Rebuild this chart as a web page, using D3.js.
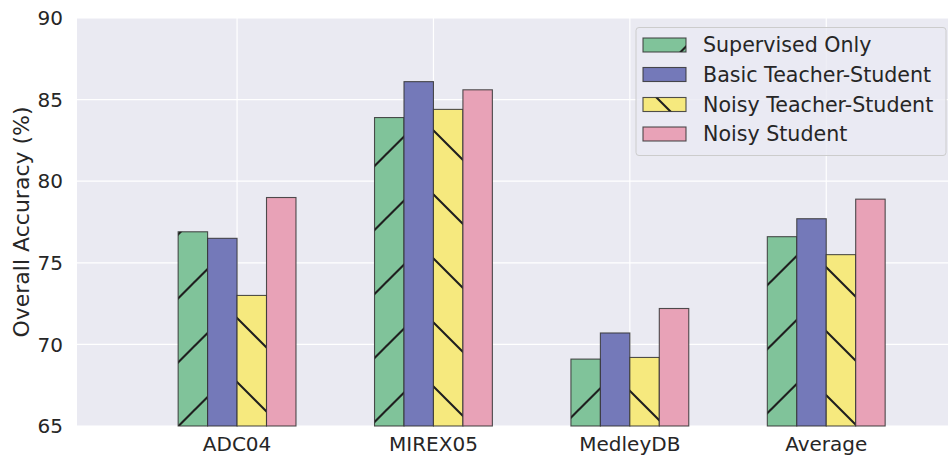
<!DOCTYPE html>
<html><head><meta charset="utf-8">
<script src="https://cdn.jsdelivr.net/npm/d3@7"></script>
<style>body{margin:0;background:#fff}svg{display:block}text{font-family:"DejaVu Sans",sans-serif;fill:#262626}</style>
</head><body><svg id="c" width="948" height="456"></svg>
<script>
const categories = ["ADC04", "MIREX05", "MedleyDB", "Average"];
const seriesNames = ["Supervised Only", "Basic Teacher-Student", "Noisy Teacher-Student", "Noisy Student"];
const supervisedOnly = [76.9, 83.9, 69.1, 76.6];
const basicTS = [76.5, 86.1, 70.7, 77.7];
const noisyTS = [73.0, 84.4, 69.2, 75.5];
const noisyStudent = [79.0, 85.6, 72.2, 78.9];
const yTicks = [65, 70, 75, 80, 85, 90];

const seriesValues = [supervisedOnly, basicTS, noisyTS, noisyStudent];
const colors = ["#80c39a", "#7479b9", "#f6e97e", "#e8a2b7"];
const hatches = ["fwd", null, "back", null];

const svg = d3.select("#c");
const L = 77, R = 948, T = 18, B = 426;
const x = d3.scaleLinear().domain([-0.815, 3.62]).range([L, R]);
const y = d3.scaleLinear().domain([65, 90]).range([B, T]);
const bw = 0.15;

const defs = svg.append("defs");
function mkPattern(id, type) {
  const p = defs.append("pattern").attr("id", id).attr("patternUnits", "userSpaceOnUse")
    .attr("width", 64).attr("height", 64);
  let d = "";
  if (type === "fwd") {
    const c0 = 28.6;
    for (let k = -2; k <= 3; k++) { const c = c0 + 64 * k; d += `M${-10},${c + 10}L${74},${c - 74}`; }
  } else {
    const d0 = 47;
    for (let k = -3; k <= 2; k++) { const dd = d0 + 64 * k; d += `M${-10},${-10 - dd}L${74},${74 - dd}`; }
  }
  p.append("path").attr("d", d).attr("stroke", "#1f1f1f").attr("stroke-width", 2.1).attr("fill", "none");
}
mkPattern("h-fwd", "fwd");
mkPattern("h-back", "back");

// background
svg.append("rect").attr("x", L).attr("y", T).attr("width", R - L).attr("height", B - T).attr("fill", "#eaeaf2");
// grid
svg.append("g").selectAll("line").data(yTicks).join("line")
  .attr("x1", L).attr("x2", R).attr("y1", d => y(d)).attr("y2", d => y(d))
  .attr("stroke", "#fff").attr("stroke-width", 1.2);
svg.append("g").selectAll("line").data(categories).join("line")
  .attr("x1", (d, i) => x(i)).attr("x2", (d, i) => x(i)).attr("y1", T).attr("y2", B)
  .attr("stroke", "#fff").attr("stroke-width", 1.2);

// bars
seriesValues.forEach((vals, s) => {
  const g = svg.append("g");
  const off = (s - 1.5) * bw;
  vals.forEach((v, i) => {
    const x0 = x(i + off - bw / 2), x1 = x(i + off + bw / 2);
    g.append("rect").attr("x", x0).attr("y", y(v)).attr("width", x1 - x0).attr("height", B - y(v))
      .attr("fill", colors[s]);
    if (hatches[s]) g.append("rect").attr("x", x0).attr("y", y(v)).attr("width", x1 - x0).attr("height", B - y(v))
      .attr("fill", `url(#h-${hatches[s]})`);
    g.append("rect").attr("x", x0).attr("y", y(v)).attr("width", x1 - x0).attr("height", B - y(v))
      .attr("fill", "none").attr("stroke", "#333").attr("stroke-opacity", 0.85).attr("stroke-width", 1.1);
  });
});

// y ticks
svg.append("g").selectAll("text").data(yTicks).join("text")
  .attr("x", 63).attr("y", d => y(d)).attr("dy", "0.36em").attr("text-anchor", "end")
  .attr("font-size", 20).text(d => d);
// x ticks
svg.append("g").selectAll("text").data(categories).join("text")
  .attr("x", (d, i) => x(i)).attr("y", 451).attr("text-anchor", "middle")
  .attr("font-size", 20).text(d => d);
// y label
svg.append("text").attr("transform", `translate(29,${(T + B) / 2}) rotate(-90)`)
  .attr("text-anchor", "middle").attr("font-size", 22).text("Overall Accuracy (%)");

// legend
const lg = svg.append("g");
lg.append("rect").attr("x", 636).attr("y", 27.5).attr("width", 310).attr("height", 128).attr("rx", 3)
  .attr("fill", "#eaeaf2").attr("fill-opacity", 0.8).attr("stroke", "#cccccc").attr("stroke-width", 1);
const rowY = [45, 74.5, 104.5, 134];
seriesNames.forEach((n, s) => {
  const cy = rowY[s];
  lg.append("rect").attr("x", 643).attr("y", cy - 7).attr("width", 43).attr("height", 14).attr("fill", colors[s]);
  if (hatches[s]) lg.append("rect").attr("x", 643).attr("y", cy - 7).attr("width", 43).attr("height", 14)
    .attr("fill", `url(#h-${hatches[s]})`);
  lg.append("rect").attr("x", 643).attr("y", cy - 7).attr("width", 43).attr("height", 14)
    .attr("fill", "none").attr("stroke", "#333").attr("stroke-opacity", 0.85).attr("stroke-width", 1.1);
  lg.append("text").attr("x", 703).attr("y", cy).attr("dy", "0.36em").attr("font-size", 20.6).text(n);
});
</script></body></html>
